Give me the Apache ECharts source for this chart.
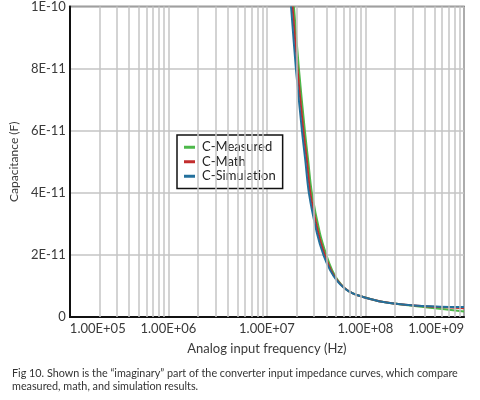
<!DOCTYPE html>
<html>
<head>
<meta charset="utf-8">
<script src="https://cdn.jsdelivr.net/npm/echarts@6/dist/echarts.min.js"></script>
<style>
html,body{margin:0;padding:0;background:#fff;}
#chart{width:480px;height:400px;}
</style>
</head>
<body>
<div id="chart"></div>
<script>
// ---- data ----
var xTickLabels = ['1.00E+05', '1.00E+06', '1.00E+07', '1.00E+08', '1.00E+09'];
var yTickLabels = ['0', '2E-11', '4E-11', '6E-11', '8E-11', '1E-10'];
var seriesNames = ['C-Measured', 'C-Math', 'C-Simulation'];

var measuredFreq = [1.88e7, 2.11e7, 2.43e7, 2.62e7, 2.86e7, 3.45e7, 4.02e7, 4.59e7, 5.23e7, 6.2e7, 7.45e7, 9.34e7, 1.47e8, 2.71e8, 4.5e8, 1.0e9];
var measuredCap  = [1.0e-10, 8.0e-11, 5.98e-11, 5.05e-11, 3.99e-11, 2.70e-11, 1.99e-11, 1.51e-11, 1.19e-11, 0.92e-11, 0.76e-11, 0.65e-11, 0.49e-11, 0.38e-11, 0.30e-11, 0.18e-11];

var mathFreq = [1.82e7, 2.04e7, 2.35e7, 2.54e7, 2.76e7, 3.33e7, 3.88e7, 4.46e7, 5.15e7, 6.2e7, 7.44e7, 9.34e7, 1.47e8, 2.71e8, 5.78e8, 1.0e9];
var mathCap  = [1.0e-10, 8.0e-11, 5.98e-11, 5.05e-11, 3.99e-11, 2.70e-11, 1.99e-11, 1.51e-11, 1.19e-11, 0.92e-11, 0.76e-11, 0.65e-11, 0.49e-11, 0.386e-11, 0.32e-11, 0.28e-11];

var simFreq = [1.757e7, 1.968e7, 2.27e7, 2.45e7, 2.666e7, 3.219e7, 3.752e7, 4.372e7, 5.08e7, 6.153e7, 7.435e7, 9.34e7, 1.472e8, 2.708e8, 5.78e8, 1.0e9];
var simCap  = [1.0e-10, 8.0e-11, 5.98e-11, 5.05e-11, 3.99e-11, 2.70e-11, 1.99e-11, 1.51e-11, 1.19e-11, 0.92e-11, 0.76e-11, 0.65e-11, 0.49e-11, 0.386e-11, 0.33e-11, 0.32e-11];

var decades = [1e5, 1e6, 1e7, 1e8];
var minorMultipliers = [2, 3, 4, 5, 6, 7, 8, 9];

var captionLines = [
  'Fig 10. Shown is the \u201cimaginary\u201d part of the converter input impedance curves, which compare',
  'measured, math, and simulation results.'
];

// ---- build ----
function pairs(xs, ys) { return xs.map(function (x, i) { return [x, ys[i]]; }); }

var minorLines = [];
decades.forEach(function (d) {
  minorMultipliers.forEach(function (m) { minorLines.push({ xAxis: d * m }); });
});

var fontFam = 'Lato, "Noto Sans", sans-serif';
var txtColor = '#3a3a3a';
var colors = ['#4db84a', '#c22d2d', '#23709c'];

var chart = echarts.init(document.getElementById('chart'), null, { renderer: 'canvas' });
chart.setOption({
  animation: false,
  backgroundColor: '#fff',
  grid: { left: 60, right: 16, top: 6, bottom: 83, show: true, borderColor: '#333', borderWidth: 1.5, backgroundColor: 'transparent' },
  legend: {
    data: seriesNames,
    orient: 'vertical',
    left: 177, top: 135,
    backgroundColor: '#fff',
    borderColor: '#111', borderWidth: 1.5,
    padding: [5, 7, 5, 7],
    itemGap: 0,
    itemWidth: 11, itemHeight: 3,
    icon: 'rect',
    textStyle: { fontFamily: fontFam, fontSize: 13, color: '#222', lineHeight: 14.5, padding: [0, 0, 0, 2] }
  },
  xAxis: {
    type: 'log', logBase: 10, min: 1e5, max: 1e9,
    name: 'Analog input frequency (Hz)', nameLocation: 'middle', nameGap: 25,
    nameTextStyle: { fontFamily: fontFam, fontSize: 13, color: txtColor },
    axisLine: { lineStyle: { color: '#111', width: 2 } },
    axisTick: { show: false },
    axisLabel: {
      fontFamily: fontFam, fontSize: 13, color: txtColor, margin: 5,
      alignMinLabel: 'left', alignMaxLabel: 'right',
      formatter: function (v) { var i = Math.round(Math.log10(v)) - 5; return xTickLabels[i] || ''; }
    },
    splitLine: { show: true, lineStyle: { color: '#c4c4c4', width: 1.5 } }
  },
  yAxis: {
    type: 'value', min: 0, max: 1e-10, interval: 2e-11,
    name: 'Capacitance (F)', nameLocation: 'middle', nameGap: 47,
    nameTextStyle: { fontFamily: fontFam, fontSize: 12, color: txtColor },
    axisLine: { show: true, lineStyle: { color: '#111', width: 2 } },
    axisTick: { show: false },
    axisLabel: {
      fontFamily: fontFam, fontSize: 13, color: txtColor, margin: 4,
      formatter: function (v) { return yTickLabels[Math.round(v / 2e-11)]; }
    },
    splitLine: { show: true, lineStyle: { color: '#c4c4c4', width: 1.5 } }
  },
  series: [
    {
      name: 'grid-minor', type: 'line', data: [], z: 1, silent: true,
      markLine: {
        silent: true, symbol: ['none', 'none'], label: { show: false },
        lineStyle: { color: '#c4c4c4', width: 1.5, type: 'solid' },
        animation: false, data: minorLines
      }
    },
    { name: seriesNames[0], type: 'line', data: pairs(measuredFreq, measuredCap), showSymbol: false, smooth: 0.3, color: colors[0], lineStyle: { width: 2 } },
    { name: seriesNames[1], type: 'line', data: pairs(mathFreq, mathCap), showSymbol: false, smooth: 0.3, color: colors[1], lineStyle: { width: 2 } },
    { name: seriesNames[2], type: 'line', data: pairs(simFreq, simCap), showSymbol: false, smooth: 0.3, color: colors[2], lineStyle: { width: 2 } }
  ],
  graphic: captionLines.map(function (t, i) {
    return {
      type: 'text', left: 12, top: 368 + i * 13,
      style: { text: t, fontFamily: fontFam, fontSize: 10.8, fill: '#333' }
    };
  })
});
</script>
</body>
</html>
